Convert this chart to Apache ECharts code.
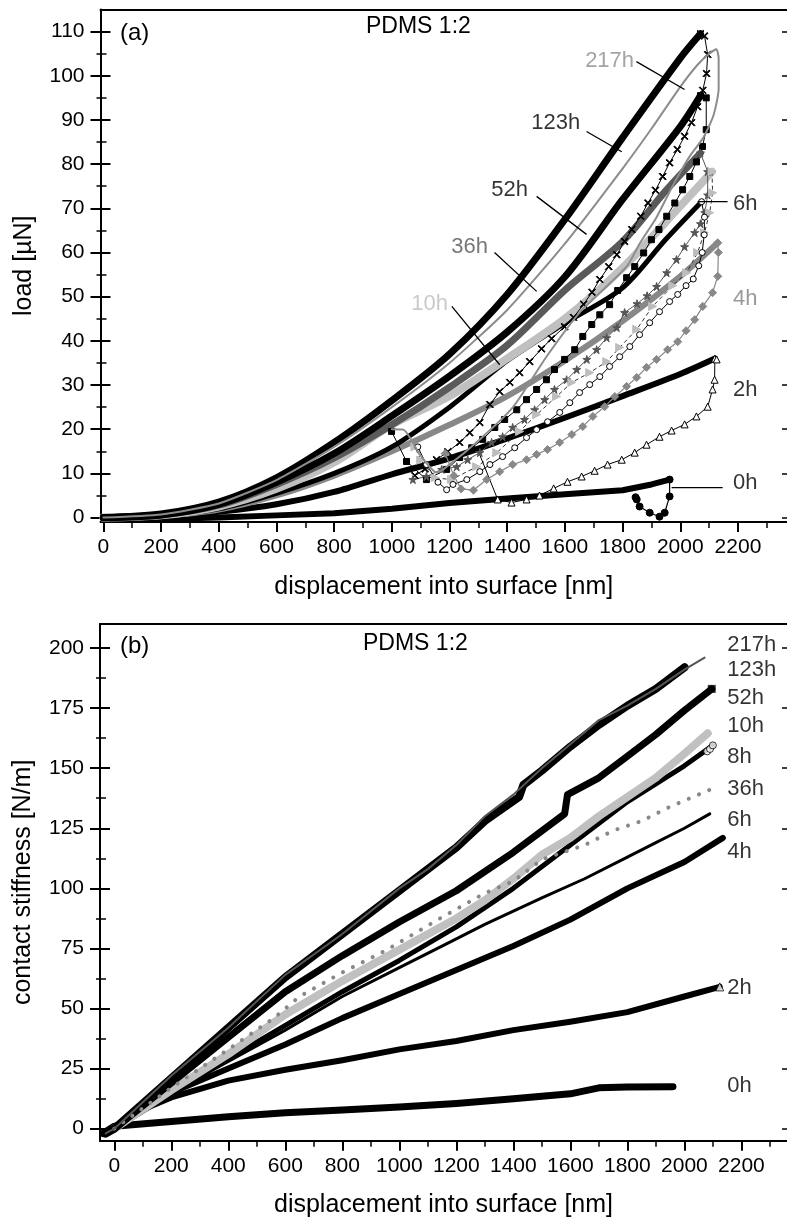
<!DOCTYPE html>
<html><head><meta charset="utf-8">
<script src="https://cdn.jsdelivr.net/npm/echarts@6/dist/echarts.min.js"></script>
<style>html,body{margin:0;padding:0;background:#fff}#c{width:787px;height:1220px}</style>
</head><body><div id="c"></div><script>
// ---------- tick labels ----------
const xMajor = [0,200,400,600,800,1000,1200,1400,1600,1800,2000,2200];
const xMinor = [100,300,500,700,900,1100,1300,1500,1700,1900,2100,2300];
const yMajorA = [0,10,20,30,40,50,60,70,80,90,100,110];
const yMinorA = [5,15,25,35,45,55,65,75,85,95,105];
const yMajorB = [0,25,50,75,100,125,150,175,200];
const yMinorB = [12.5,37.5,62.5,87.5,112.5,137.5,162.5,187.5];

// ---------- panel (a): loading curves [displacement nm, load uN] ----------
const loadA1 = [[0,0],[200,0.8],[400,3.5],[600,9],[800,17],[1000,26.5],[1200,37],[1400,50.5],[1600,67.5],[1800,86],[2000,104],[2070,109.5]];
const curve217hA = [[0,0],[200,0.7],[400,3.2],[600,8.5],[800,16],[1000,25],[1200,35],[1400,47],[1600,62],[1800,79],[1900,88],[2000,97.5],[2060,102.5],[2100,105],[2125,106],[2133,104],[2133,97],[2115,91],[2080,86],[2032,81.7],[1973,75],[1918,68],[1859,62],[1814,56.8],[1651,46.4],[1536,36.4],[1420,25],[1305,17.7],[1190,11.5],[1155,10.2],[1100,14],[1040,19.9],[1000,20]];
const loadA3 = [[0,0],[200,0.6],[400,3],[600,8],[800,14.5],[1000,23],[1200,32],[1400,42],[1600,54.5],[1800,72],[2000,88.5],[2070,95.5]];
const loadA4 = [[0,0],[200,0.6],[400,2.8],[600,7.5],[800,13.5],[1000,21],[1200,29.5],[1400,39],[1600,51.5],[1800,62.5],[1950,74],[2070,82.5]];
const loadA5 = [[0,0],[200,0.5],[400,2.5],[600,6.5],[800,12.5],[1000,21],[1200,27.5],[1400,36],[1600,45],[1800,56.5],[2000,70.5],[2110,78.3]];
const loadA6 = [[0,0],[200,0.4],[400,2],[600,5.5],[800,10],[1000,16],[1200,25],[1400,35.5],[1600,44],[1800,52],[1950,63],[2074,71.5]];
const loadA7 = [[0,0],[200,0.4],[400,1.8],[600,5],[800,9.5],[1000,15],[1200,21],[1400,27.5],[1600,35.5],[1800,44.5],[2000,54.6],[2130,62.2]];
const loadA8 = [[0,0],[200,0.3],[400,1.3],[600,3],[800,5.8],[1000,9.8],[1200,13.4],[1400,17.9],[1600,22.6],[1800,27.5],[2000,32.5],[2120,36]];
const loadA9 = [[0,-0.5],[200,-0.3],[400,0],[600,0.5],[800,1],[1000,2],[1200,3.3],[1400,4.3],[1600,5.3],[1800,6.2],[1900,7.5],[1963,8.6]];

// ---------- panel (a): unloading curves ----------
const unloadCross = [[2070,109.5],[2084,109],[2095,104.8],[2091,100.5],[2078,96.7],[2060,93],[2039,89.4],[2015,86.3],[1990,83.3],[1963,80.3],[1939,77.2],[1914,74.1],[1888,71.2],[1863,68.2],[1832,65.2],[1807,62.5],[1780,59.5],[1752,56.8],[1721,53.9],[1694,51],[1665,48.3],[1630,45.3],[1599,43.2],[1554,40.5],[1519,38.2],[1478,35.3],[1443,32.8],[1409,30.6],[1374,28.5],[1340,25.6],[1305,21.5],[1270,19.2],[1235,17],[1194,14.9],[1155,13.1],[1115,11],[1080,9.5]];
const unloadSquare = [[2070,95.5],[2090,95],[2090,87.8],[2077,84],[2056,80.5],[2033,77.2],[2008,74.2],[1981,71.2],[1953,68.2],[1926,65.2],[1900,62.9],[1873,59.9],[1842,56.8],[1814,54.3],[1783,51.4],[1755,48.2],[1721,45.9],[1693,43.7],[1662,41],[1634,38],[1599,35.8],[1564,33.5],[1536,31.2],[1502,29],[1467,26.7],[1433,24.4],[1391,22.2],[1357,20.4],[1315,17.7],[1277,15.8],[1235,13.6],[1190,10.9],[1120,8.6],[1051,12.7],[999,19.5]];
const unloadStar = [[2070,82.5],[2095,78.3],[2095,73],[2085,69],[2070,66.5],[2050,64.5],[2015,61.3],[1987,58.4],[1953,55.4],[1918,52.3],[1885,50.2],[1850,48.4],[1807,46.4],[1780,43],[1745,40.7],[1710,38],[1676,35.8],[1641,33.5],[1606,31.2],[1564,29],[1530,26.7],[1495,24.4],[1460,22.2],[1419,20.4],[1384,18.3],[1346,17],[1305,14.7],[1263,13.1],[1225,11.5],[1173,10.9],[1120,9.3],[1073,8.6]];
const unloadTriRight = [[2110,78.3],[2112,73.5],[2102,69],[2084,64.5],[2060,60],[2022,55.4],[1974,52.5],[1904,47.8],[1849,42.6],[1790,38.5],[1745,35.3],[1686,32.8],[1624,30.6],[1571,27.4],[1502,23.3],[1443,19.5],[1364,14.7],[1294,11.5],[1207,8.6],[1150,9],[1100,13],[1080,16]];
const unloadCircle = [[2074,71.5],[2084,68],[2083,64],[2076,60],[2064,57],[2045,54],[2020,52.5],[1991,50.5],[1963,48.9],[1928,46.6],[1894,44.1],[1859,41.4],[1825,38.7],[1790,36.4],[1755,34.2],[1721,31.9],[1686,30.1],[1651,28.3],[1617,26],[1582,23.8],[1540,21.7],[1502,19.9],[1467,18.1],[1426,15.8],[1384,13.8],[1340,12],[1305,10.4],[1260,8.6],[1212,7.5],[1190,6.3],[1160,8],[1120,12],[1090,16]];
const unloadDiamond = [[2130,62.2],[2132,60],[2130,54.6],[2112,50.9],[2078,47.8],[2050,44.8],[2020,42.3],[1991,39.8],[1956,38],[1918,35.8],[1883,34],[1849,31.7],[1814,29.7],[1773,27.4],[1738,25.1],[1697,22.9],[1662,20.6],[1624,18.8],[1582,17],[1540,15.4],[1502,14.3],[1467,13.1],[1419,12],[1374,10.4],[1329,8.6],[1283,6.2],[1240,6.5],[1215,9.5],[1185,14.5]];
const unloadTriangle = [[2120,36],[2126,35.8],[2119,31.2],[2112,29],[2095,25.1],[2056,22.9],[2015,21.1],[1970,19.7],[1928,18.3],[1883,16.5],[1842,14.7],[1797,13.1],[1748,12],[1703,10.6],[1658,9.3],[1609,8.1],[1561,6.6],[1512,5],[1467,4.1],[1415,3.4],[1367,4.1]];
const unloadTriTail = [[1367,4.1],[1300,15]];
const unloadDot = [[1963,8.6],[1963,4.8],[1946,1.1],[1928,0.2],[1894,1.1],[1859,2.5],[1849,4.1],[1845,4.6]];

// ---------- panel (b): contact stiffness [displacement nm, N/m] ----------
const stiff123h = [[-30,-2],[0,0],[200,21],[400,42],[600,63],[800,81],[1000,99],[1200,117],[1300,128],[1420,138],[1435,143],[1500,149],[1600,159],[1700,168],[1800,176],[1900,183],[2001,192]];
const stiff217h = [[-30,-2],[0,0],[200,22],[400,42],[600,64],[800,81],[1000,100],[1100,108],[1200,118],[1300,130],[1400,139],[1500,150],[1600,160],[1700,170],[1800,176],[1900,183],[2000,191],[2071,196]];
const stiff52h = [[-30,-2],[0,0],[200,19],[400,38],[600,57],[800,72],[1000,86],[1200,99],[1400,115],[1580,131],[1590,139],[1700,146],[1800,155],[1900,164],[2000,174],[2096,183]];
const stiff10h = [[0,0],[200,16],[400,31],[600,47.5],[800,61.5],[1000,74.5],[1200,87.5],[1300,95],[1400,104],[1500,114],[1600,121],[1700,130],[1800,138],[1900,146],[2000,156],[2082,164.5]];
const stiff8h = [[-30,-2],[0,0],[200,15],[400,29],[600,43],[800,57],[1000,70],[1200,84],[1400,100],[1600,118],[1800,136],[1900,143.5],[2000,151],[2100,159.5]];
const stiff36h = [[0,0],[200,17],[400,33],[560,46],[650,55],[800,65],[950,74],[1150,88],[1300,98],[1400,103],[1500,112],[1650,118],[1750,124],[1850,128],[1950,134],[2089,141]];
const stiff6h = [[0,0],[200,15],[400,28],[600,41],[800,55],[1000,67],[1200,79],[1300,85],[1400,90.5],[1500,96],[1650,104],[1800,113],[1900,119],[2000,125],[2089,131]];
const stiff4h = [[-30,-2],[0,0],[200,15],[400,25],[600,35],[800,46],[1000,56],[1200,66],[1400,76],[1600,87],[1800,100],[2000,111],[2135,121]];
const stiff2h = [[-30,-2],[0,0],[100,8],[200,13],[400,20],[600,24.5],[800,28.5],[1000,33],[1200,36.5],[1400,41],[1600,44.5],[1800,48.5],[2000,55],[2124,59]];
const stiff0h = [[-40,-2],[0,1],[200,3],[400,5],[600,6.6],[800,7.8],[1000,9],[1200,10.5],[1400,12.5],[1600,14.5],[1700,17],[1800,17.3],[1960,17.5]];
const endSquareB = [[2096,183]];
const endCircleB = [[2080,157],[2090,158],[2100,159.5]];
const endTriangleB = [[2124,59]];

// ---------- annotations (data coordinates) ----------
const labelsA = [
  {name:'217h', value:[1755,103.4], color:'#8c8c8c', left:false},
  {name:'123h', value:[1568,89.4], color:'#000', left:false},
  {name:'52h', value:[1408,74.2], color:'#000', left:false},
  {name:'36h', value:[1270,61.3], color:'#555', left:false},
  {name:'10h', value:[1131,48.4], color:'#bdbdbd', left:false},
  {name:'6h', value:[2181,71.1], color:'#000', left:true},
  {name:'4h', value:[2181,49.6], color:'#808080', left:true},
  {name:'2h', value:[2181,28.9], color:'#000', left:true},
  {name:'0h', value:[2181,7.9], color:'#000', left:true}
];
const leadersA = [
  [[1848,103.2],[2015,96.9]],
  [[1675,87.4],[1797,82.8]],
  [[1502,72.7],[1675,64.1]],
  [[1356,60],[1502,51.2]],
  [[1208,47.8],[1374,34.6]],
  [[2060,71.5],[2164,71.5]],
  [[1970,6.8],[2147,6.8]]
];
const labelsB = [
  {name:'217h', value:[2149,201.1]},
  {name:'123h', value:[2149,190.7]},
  {name:'52h', value:[2149,179.1]},
  {name:'10h', value:[2149,167.5]},
  {name:'8h', value:[2149,154.6]},
  {name:'36h', value:[2149,141.3]},
  {name:'6h', value:[2149,128.4]},
  {name:'4h', value:[2149,115.1]},
  {name:'2h', value:[2149,58.6]},
  {name:'0h', value:[2149,17.9]}
];

const FONT = 'Liberation Sans, Arial, Helvetica, sans-serif';
const SYM_X = 'path://M0,1 L1,0 L5,4 L9,0 L10,1 L6,5 L10,9 L9,10 L5,6 L1,10 L0,9 L4,5 Z';
const SYM_STAR = 'path://M5,0 L6.2,3.6 L10,3.6 L6.9,5.8 L8.1,9.5 L5,7.2 L1.9,9.5 L3.1,5.8 L0,3.6 L3.8,3.6 Z';
const plain = v => String(v);

function xAxesFor(grid, min, max, name, gap) {
  const base = {type:'value', gridIndex:grid, min:min, max:max, splitLine:{show:false}};
  return [
    Object.assign({}, base, {position:'bottom',
      axisLine:{show:true, onZero:false, lineStyle:{color:'#000', width:2}},
      axisTick:{show:true, inside:false, length:10, customValues:xMajor, lineStyle:{color:'#000', width:2}},
      axisLabel:{show:true, customValues:xMajor, formatter:plain, fontSize:21, color:'#000', fontFamily:FONT, margin:15},
      name:name, nameLocation:'middle', nameGap:gap, nameTextStyle:{fontSize:25, color:'#000', fontFamily:FONT}}),
    Object.assign({}, base, {position:'bottom',
      axisLine:{show:false, onZero:false},
      axisTick:{show:true, inside:false, length:6, customValues:xMinor, lineStyle:{color:'#000', width:1.5}},
      axisLabel:{show:false}}),
    Object.assign({}, base, {position:'top',
      axisLine:{show:true, onZero:false, lineStyle:{color:'#000', width:2}},
      axisTick:{show:false}, axisLabel:{show:false}})
  ];
}
function yAxesFor(grid, min, max, major, minor, name, gap) {
  const base = {type:'value', gridIndex:grid, min:min, max:max, splitLine:{show:false}};
  return [
    Object.assign({}, base, {position:'left',
      axisLine:{show:true, onZero:false, lineStyle:{color:'#000', width:2}},
      axisTick:{show:true, inside:false, length:10, customValues:major, lineStyle:{color:'#000', width:2}},
      axisLabel:{show:true, customValues:major, formatter:plain, fontSize:21, color:'#000', fontFamily:FONT, margin:16},
      name:name, nameLocation:'middle', nameGap:gap, nameTextStyle:{fontSize:25, color:'#000', fontFamily:FONT}}),
    Object.assign({}, base, {position:'left',
      axisLine:{show:false, onZero:false},
      axisTick:{show:true, inside:true, length:10, customValues:major, lineStyle:{color:'#000', width:2}},
      axisLabel:{show:false}}),
    Object.assign({}, base, {position:'left',
      axisLine:{show:false, onZero:false},
      axisTick:{show:true, inside:false, length:4, customValues:minor, lineStyle:{color:'#000', width:1.5}},
      axisLabel:{show:false}}),
    Object.assign({}, base, {position:'left',
      axisLine:{show:false, onZero:false},
      axisTick:{show:true, inside:true, length:6, customValues:minor, lineStyle:{color:'#000', width:1.5}},
      axisLabel:{show:false}}),
    Object.assign({}, base, {position:'right',
      axisLine:{show:false, onZero:false},
      axisTick:{show:true, inside:true, length:5, customValues:major, lineStyle:{color:'#000', width:1.5}},
      axisLabel:{show:false}})
  ];
}

function ln(data, panel, color, width, extra) {
  const s = {type:'line', data:data, xAxisIndex: panel ? 3 : 0, yAxisIndex: panel ? 5 : 0,
    showSymbol:false, symbol:'none', silent:true, animation:false,
    lineStyle:{color:color, width:width, cap:'round', join:'round'}, z:2};
  return Object.assign(s, extra || {});
}
function mk(data, lineColor, lineWidth, symbol, size, fill, border, extra) {
  const s = {type:'line', data:data, xAxisIndex:0, yAxisIndex:0, silent:true, animation:false,
    showSymbol:true, showAllSymbol:true, symbol:symbol, symbolSize:size,
    lineStyle:{color:lineColor, width:lineWidth},
    itemStyle:{color:fill, borderColor:border, borderWidth:1}, z:3};
  return Object.assign(s, extra || {});
}
function labelSeries(items, panel, fontSize) {
  return {type:'scatter', xAxisIndex: panel ? 3 : 0, yAxisIndex: panel ? 5 : 0, silent:true, animation:false,
    symbolSize:1, itemStyle:{color:'rgba(0,0,0,0)'}, z:10,
    data: items.map(d => ({name:d.name, value:d.value,
      label:{show:true, formatter:'{b}', color:d.color || '#000', fontSize:fontSize, fontFamily:FONT,
        position: (panel || d.left) ? 'right' : 'inside', distance:0}}))};
}
function leaderData(list) {
  const out = [];
  list.forEach((seg, i) => { if (i) out.push([null, null]); seg.forEach(p => out.push(p)); });
  return out;
}

const series = [
  // panel a loading
  ln(loadA9, 0, '#000', 6),
  ln(loadA8, 0, '#000', 6, {smooth:0.3}),
  ln(loadA7, 0, '#888', 6, {smooth:0.3}),
  ln(loadA6, 0, '#000', 5, {smooth:0.3}),
  ln(loadA5, 0, '#c0c0c0', 8, {smooth:0.3}),
  ln(loadA4, 0, '#5a5a5a', 7, {smooth:0.3}),
  ln(loadA3, 0, '#000', 7, {smooth:0.3}),
  ln(loadA1, 0, '#000', 7, {smooth:0.3}),
  ln(curve217hA, 0, '#8c8c8c', 2, {smooth:0.2, z:4}),
  // panel a unloading
  mk(unloadCross, '#000', 1, SYM_X, 7, '#000', '#000'),
  mk(unloadSquare, '#000', 1, 'rect', 6, '#000', '#000'),
  mk(unloadStar, '#555', 1, SYM_STAR, 8, '#555', '#555'),
  mk(unloadTriRight, '#333', 1, 'triangle', 8, '#bdbdbd', '#bdbdbd', {symbolRotate:-90, lineStyle:{color:'#333', width:1, type:[4,3]}}),
  mk(unloadCircle, '#000', 1, 'circle', 6, '#fff', '#000'),
  mk(unloadDiamond, '#888', 1.2, 'diamond', 8, '#888', '#888'),
  mk(unloadTriangle, '#000', 1, 'triangle', 7, '#fff', '#000'),
  ln(unloadTriTail, 0, '#000', 1, {z:3}),
  mk(unloadDot, '#000', 1.2, 'circle', 7, '#000', '#000'),
  // leaders panel a
  {type:'line', data:leaderData(leadersA), xAxisIndex:0, yAxisIndex:0, silent:true, animation:false,
   showSymbol:false, symbol:'none', connectNulls:false, lineStyle:{color:'#000', width:1.3}, z:5},
  labelSeries(labelsA, 0, 22),
  // panel b
  ln(stiff0h, 1, '#000', 7),
  ln(stiff2h, 1, '#000', 6),
  ln(stiff4h, 1, '#000', 6),
  ln(stiff6h, 1, '#000', 3),
  ln(stiff8h, 1, '#000', 5),
  ln(stiff10h, 1, '#c0c0c0', 8),
  ln(stiff36h, 1, '#888', 4, {lineStyle:{color:'#888', width:4, type:[0.1,11], cap:'round'}, z:4}),
  ln(stiff52h, 1, '#000', 7),
  ln(stiff123h, 1, '#000', 8),
  ln(stiff217h, 1, '#555', 2, {z:4}),
  {type:'scatter', data:endSquareB, xAxisIndex:3, yAxisIndex:5, symbol:'rect', symbolSize:8, itemStyle:{color:'#000'}, silent:true, animation:false, z:5},
  {type:'scatter', data:endCircleB, xAxisIndex:3, yAxisIndex:5, symbol:'circle', symbolSize:7, itemStyle:{color:'#fff', borderColor:'#000', borderWidth:1}, silent:true, animation:false, z:5},
  {type:'scatter', data:endTriangleB, xAxisIndex:3, yAxisIndex:5, symbol:'triangle', symbolSize:8, itemStyle:{color:'#fff', borderColor:'#000', borderWidth:1}, silent:true, animation:false, z:5},
  labelSeries(labelsB, 1, 22)
];

const chart = echarts.init(document.getElementById('c'), null, {renderer:'canvas'});
chart.setOption({
  backgroundColor:'#fff',
  animation:false,
  grid:[
    {left:100.5, top:9.5, width:687, height:512.5, containLabel:false},
    {left:100, top:624, width:687.6, height:516.7, containLabel:false}
  ],
  xAxis: [].concat(
    xAxesFor(0, -10, 2370, 'displacement into surface [nm]', 53),
    xAxesFor(1, -50, 2360, 'displacement into surface [nm]', 52)
  ),
  yAxis: [].concat(
    yAxesFor(0, -1, 115, yMajorA, yMinorA, 'load [µN]', 64),
    yAxesFor(1, -5, 210, yMajorB, yMinorB, 'contact stiffness [N/m]', 64)
  ),
  graphic:[
    {type:'text', left:120, top:21, style:{text:'(a)', font:'24px ' + FONT, fill:'#000'}},
    {type:'text', left:366, top:15, style:{text:'PDMS 1:2', font:'23px ' + FONT, fill:'#000'}},
    {type:'text', left:120, top:634, style:{text:'(b)', font:'24px ' + FONT, fill:'#000'}},
    {type:'text', left:363, top:632, style:{text:'PDMS 1:2', font:'23px ' + FONT, fill:'#000'}}
  ],
  series: series
});
</script></body></html>
